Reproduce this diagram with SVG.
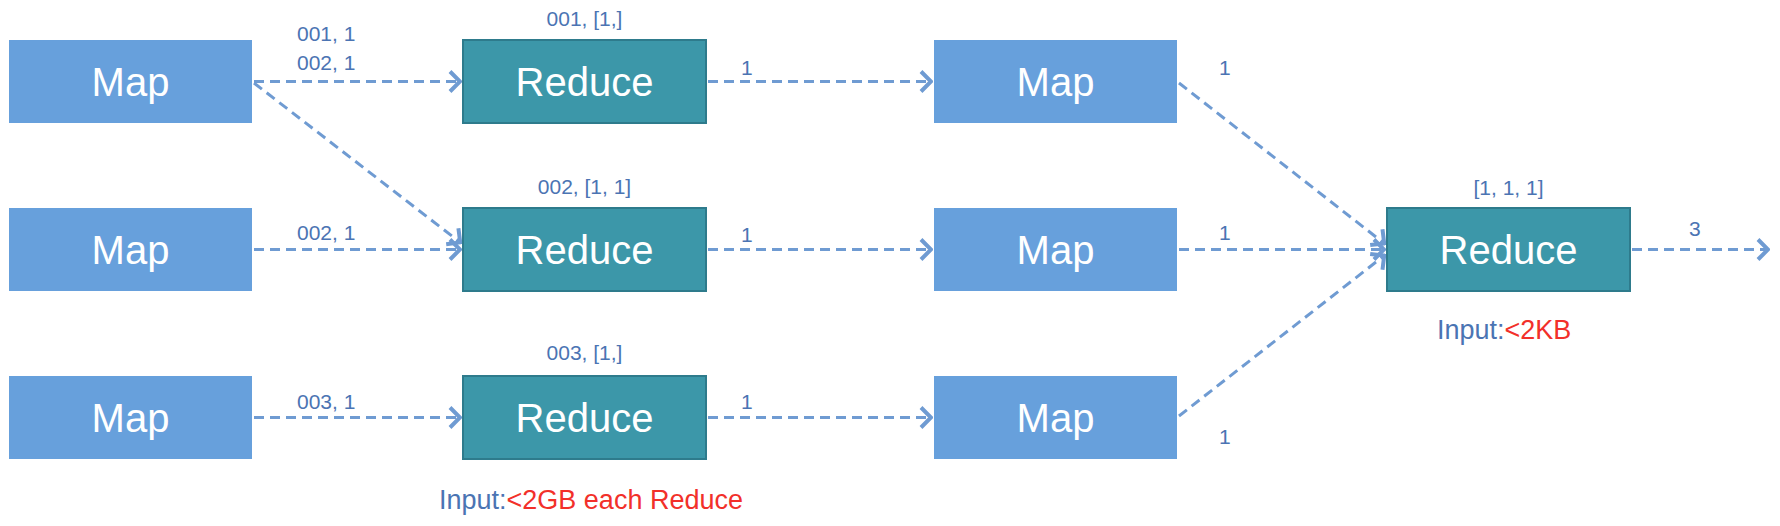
<svg xmlns="http://www.w3.org/2000/svg" width="1780" height="526" viewBox="0 0 1780 526">
<style>
.map{fill:#67a0dc;}
.red{fill:#3c97a9;stroke:#2e7b8c;stroke-width:2;}
.nt{font-family:"Liberation Sans",Arial,sans-serif;font-size:40px;fill:#ffffff;text-anchor:middle;}
.lb{font-family:"Liberation Sans",Arial,sans-serif;font-size:21px;fill:#4b74b3;}
.big{font-size:27px;}
.mid{text-anchor:middle;}
.c{stroke:#6f9bd2;stroke-width:3;stroke-dasharray:10,6;fill:none;marker-end:url(#ah);}
.blue{fill:#4b74b3;}
.redt{fill:#f2302a;}
</style>
<defs>
<marker id="ah" viewBox="0 0 14 24" refX="13" refY="12" markerWidth="14" markerHeight="24" markerUnits="userSpaceOnUse" orient="auto">
<path d="M2,2 L12,12 L2,22" fill="none" stroke="#6f9bd2" stroke-width="4"/>
</marker>
</defs>
<rect width="1780" height="526" fill="#ffffff"/>
<g id="connectors">
<line class="c" x1="254" y1="81.5" x2="461" y2="81.5"/>
<line class="c" x1="254" y1="83" x2="461" y2="243"/>
<line class="c" x1="254" y1="249.5" x2="461" y2="249.5"/>
<line class="c" x1="254" y1="417.5" x2="461" y2="417.5"/>
<line class="c" x1="708" y1="81.5" x2="932" y2="81.5"/>
<line class="c" x1="708" y1="249.5" x2="932" y2="249.5"/>
<line class="c" x1="708" y1="417.5" x2="932" y2="417.5"/>
<line class="c" x1="1179" y1="83" x2="1385" y2="244"/>
<line class="c" x1="1179" y1="249.5" x2="1385" y2="249.5"/>
<line class="c" x1="1179" y1="416" x2="1385" y2="255"/>
<line class="c" x1="1632" y1="249.5" x2="1769" y2="249.5"/>
</g>
<g id="map1"><rect class="map" x="9" y="40" width="243" height="83"/><text class="nt" x="130.5" y="96">Map</text></g>
<g id="map2"><rect class="map" x="9" y="208" width="243" height="83"/><text class="nt" x="130.5" y="264">Map</text></g>
<g id="map3"><rect class="map" x="9" y="376" width="243" height="83"/><text class="nt" x="130.5" y="432">Map</text></g>
<g id="reduce1"><rect class="red" x="463" y="40" width="243" height="83"/><text class="nt" x="584.5" y="96">Reduce</text></g>
<g id="reduce2"><rect class="red" x="463" y="208" width="243" height="83"/><text class="nt" x="584.5" y="264">Reduce</text></g>
<g id="reduce3"><rect class="red" x="463" y="376" width="243" height="83"/><text class="nt" x="584.5" y="432">Reduce</text></g>
<g id="map4"><rect class="map" x="934" y="40" width="243" height="83"/><text class="nt" x="1055.5" y="96">Map</text></g>
<g id="map5"><rect class="map" x="934" y="208" width="243" height="83"/><text class="nt" x="1055.5" y="264">Map</text></g>
<g id="map6"><rect class="map" x="934" y="376" width="243" height="83"/><text class="nt" x="1055.5" y="432">Map</text></g>
<g id="reduceFinal"><rect class="red" x="1387" y="208" width="243" height="83"/><text class="nt" x="1508.5" y="264">Reduce</text></g>
<g id="labels">
<text class="lb" x="297" y="41">001, 1</text>
<text class="lb" x="297" y="70">002, 1</text>
<text class="lb mid" x="584.5" y="26">001, [1,]</text>
<text class="lb mid" x="584.5" y="194">002, [1, 1]</text>
<text class="lb mid" x="584.5" y="360">003, [1,]</text>
<text class="lb" x="297" y="240">002, 1</text>
<text class="lb" x="297" y="409">003, 1</text>
<text class="lb" x="741" y="75">1</text>
<text class="lb" x="741" y="242">1</text>
<text class="lb" x="741" y="409">1</text>
<text class="lb" x="1219" y="75">1</text>
<text class="lb" x="1219" y="240">1</text>
<text class="lb" x="1219" y="444">1</text>
<text class="lb mid" x="1508.5" y="195">[1, 1, 1]</text>
<text class="lb" x="1689" y="236">3</text>
<text class="lb big" x="1437" y="339"><tspan class="blue">Input:</tspan><tspan class="redt">&lt;2KB</tspan></text>
<text class="lb big" x="439" y="509"><tspan class="blue">Input:</tspan><tspan class="redt">&lt;2GB each Reduce</tspan></text>
</g>
</svg>
